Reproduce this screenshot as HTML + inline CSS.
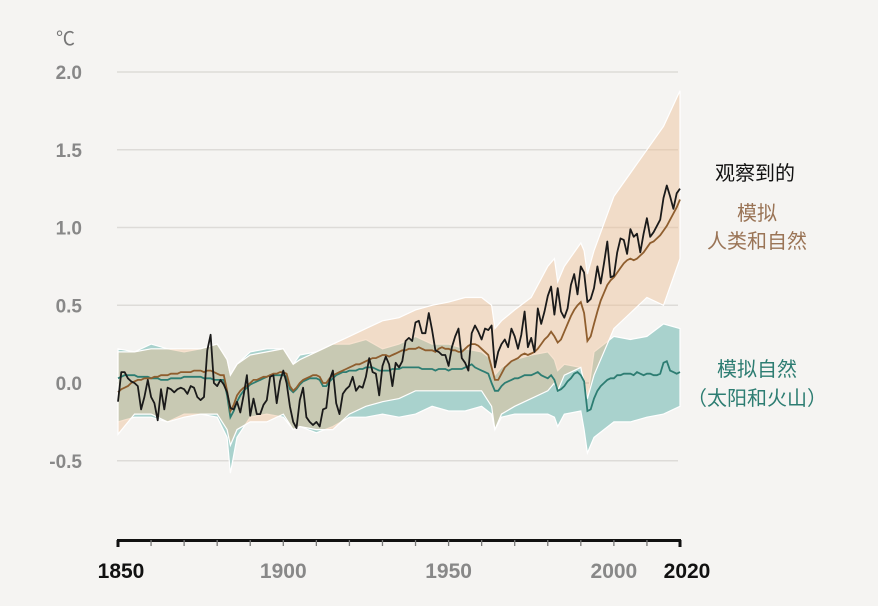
<!DOCTYPE html>
<html><head><meta charset="utf-8">
<style>
html,body{margin:0;padding:0;background:#f5f4f2;}
svg{display:block;font-family:"Liberation Sans","Noto Sans CJK SC",sans-serif;}
</style></head>
<body>
<svg id="chart" width="878" height="606" viewBox="0 0 878 606">
<rect width="878" height="606" fill="#f5f4f2"/>
<text x="56" y="45" font-size="19" fill="#777">℃</text>
<g id="grid"></g>
<g id="ylabels"></g>
<g id="bands"></g>
<g id="lines"></g>
<g id="xaxis"></g>
<text x="755" y="180" font-size="20" fill="#111" text-anchor="middle">观察到的</text>
<text x="757" y="220" font-size="20" fill="#9a7456" text-anchor="middle">模拟</text>
<text x="757" y="248" font-size="20" fill="#9a7456" text-anchor="middle">人类和自然</text>
<text x="757" y="376" font-size="20" fill="#2d7d72" text-anchor="middle">模拟自然</text>
<text x="757" y="405" font-size="20" fill="#2d7d72" text-anchor="middle">（太阳和火山）</text>
</svg>
<script>
const yTicks=[2.0,1.5,1.0,0.5,0.0,-0.5];
const yTickLabels=["2.0","1.5","1.0","0.5","0.0","-0.5"];
const xTicks=[1850,1900,1950,2000,2020];
const xTickLabels=["1850","1900","1950","2000","2020"];
const startYear=1850;
const observed=[-0.12,0.07,0.07,0.03,0.01,0.00,-0.02,-0.17,-0.09,0.02,
-0.09,-0.13,-0.24,-0.04,-0.17,-0.03,-0.04,-0.06,-0.04,-0.03,
-0.04,-0.07,-0.02,-0.03,-0.09,-0.11,-0.09,0.21,0.31,0.00,
-0.02,0.02,-0.01,-0.06,-0.16,-0.17,-0.12,-0.19,-0.08,0.05,
-0.21,-0.10,-0.20,-0.20,-0.14,-0.11,0.04,0.05,-0.13,0.01,
0.08,0.00,-0.15,-0.25,-0.29,-0.11,-0.03,-0.22,-0.25,-0.27,
-0.25,-0.28,-0.17,-0.16,0.02,0.08,-0.13,-0.20,-0.07,-0.04,
-0.02,0.04,-0.05,-0.02,-0.03,0.04,0.16,0.07,0.06,-0.08,
0.11,0.17,0.12,-0.02,0.13,0.10,0.14,0.27,0.29,0.27,
0.39,0.40,0.32,0.32,0.45,0.34,0.21,0.20,0.18,0.18,
0.11,0.23,0.30,0.35,0.16,0.13,0.08,0.32,0.37,0.33,
0.28,0.35,0.34,0.37,0.10,0.20,0.25,0.28,0.23,0.35,
0.30,0.22,0.31,0.46,0.23,0.29,0.20,0.48,0.38,0.46,
0.56,0.62,0.44,0.61,0.46,0.42,0.48,0.63,0.70,0.57,
0.75,0.71,0.52,0.54,0.61,0.75,0.64,0.77,0.91,0.68,
0.69,0.84,0.93,0.92,0.83,0.99,0.94,0.96,0.84,0.96,
1.06,0.94,0.97,1.01,1.05,1.19,1.27,1.20,1.12,1.22,1.25];
const humanNatural=[-0.06,-0.04,-0.03,-0.02,0.00,0.01,0.02,0.02,0.03,0.03,
0.03,0.04,0.04,0.05,0.05,0.05,0.06,0.06,0.06,0.07,
0.07,0.07,0.07,0.08,0.08,0.08,0.07,0.08,0.08,0.07,
0.06,0.05,0.05,-0.05,-0.18,-0.14,-0.08,-0.05,-0.03,-0.02,
0.00,0.02,0.02,0.03,0.04,0.04,0.05,0.06,0.06,0.07,
0.07,0.06,-0.02,-0.05,-0.03,0.00,0.02,0.03,0.04,0.05,
0.05,0.04,0.00,0.00,0.03,0.05,0.06,0.07,0.08,0.09,
0.10,0.11,0.12,0.12,0.13,0.14,0.15,0.16,0.16,0.17,
0.18,0.18,0.17,0.18,0.19,0.20,0.21,0.21,0.22,0.22,
0.22,0.23,0.22,0.21,0.21,0.21,0.20,0.22,0.23,0.22,
0.22,0.21,0.21,0.20,0.20,0.22,0.24,0.25,0.25,0.24,
0.22,0.20,0.18,0.10,0.02,0.02,0.06,0.10,0.12,0.14,
0.15,0.16,0.18,0.19,0.18,0.19,0.20,0.22,0.25,0.28,
0.30,0.33,0.30,0.26,0.28,0.33,0.38,0.43,0.47,0.50,
0.52,0.45,0.27,0.30,0.38,0.46,0.53,0.58,0.63,0.66,
0.68,0.71,0.74,0.77,0.79,0.80,0.79,0.80,0.82,0.84,
0.87,0.90,0.91,0.93,0.95,0.98,1.01,1.05,1.09,1.13,1.18];
const natural=[0.03,0.04,0.05,0.05,0.05,0.05,0.04,0.04,0.04,0.04,
0.03,0.03,0.03,0.02,0.02,0.02,0.03,0.03,0.03,0.03,
0.04,0.04,0.04,0.04,0.04,0.04,0.03,0.03,0.03,0.02,
0.02,0.02,0.02,-0.08,-0.22,-0.18,-0.12,-0.08,-0.05,-0.03,
-0.01,0.00,0.01,0.02,0.03,0.04,0.05,0.05,0.05,0.05,
0.05,0.04,-0.04,-0.06,-0.04,-0.01,0.01,0.02,0.03,0.03,
0.03,0.02,-0.02,-0.02,0.01,0.03,0.05,0.06,0.07,0.07,
0.08,0.08,0.08,0.09,0.09,0.10,0.10,0.10,0.09,0.08,
0.08,0.08,0.08,0.09,0.09,0.09,0.10,0.10,0.10,0.10,
0.10,0.10,0.09,0.09,0.09,0.09,0.08,0.09,0.09,0.09,
0.08,0.09,0.09,0.09,0.09,0.10,0.11,0.12,0.10,0.09,
0.08,0.07,0.06,0.00,-0.05,-0.05,-0.02,0.00,0.01,0.02,
0.03,0.03,0.04,0.05,0.05,0.05,0.06,0.07,0.05,0.04,
0.03,0.05,0.02,-0.05,-0.04,-0.02,0.01,0.03,0.06,0.07,
0.05,0.01,-0.18,-0.17,-0.10,-0.05,-0.02,0.00,0.02,0.03,
0.03,0.05,0.05,0.06,0.06,0.06,0.05,0.07,0.06,0.05,
0.06,0.06,0.05,0.05,0.06,0.13,0.14,0.08,0.07,0.06,0.07];
const bandYears=[1850,1855,1860,1865,1870,1875,1880,1883,1884,1886,1890,1895,1900,1903,1905,1910,1915,1920,1925,1930,1935,1940,1945,1950,1955,1960,1963,1964,1966,1970,1975,1980,1982,1983,1985,1990,1991,1992,1994,2000,2005,2010,2015,2020];
const hnLow=[-0.33,-0.2,-0.2,-0.25,-0.22,-0.2,-0.2,-0.3,-0.4,-0.3,-0.25,-0.25,-0.2,-0.3,-0.28,-0.3,-0.3,-0.2,-0.15,-0.12,-0.1,-0.05,-0.05,-0.05,-0.05,-0.05,-0.15,-0.3,-0.2,-0.15,-0.1,-0.05,0.0,-0.05,0.05,0.1,0.0,-0.1,0.05,0.35,0.45,0.55,0.5,0.8];
const hnHigh=[0.2,0.2,0.22,0.22,0.22,0.22,0.25,0.15,0.05,0.12,0.18,0.2,0.22,0.12,0.15,0.2,0.25,0.3,0.35,0.4,0.42,0.47,0.5,0.52,0.55,0.55,0.5,0.35,0.4,0.47,0.55,0.75,0.8,0.65,0.75,0.9,0.85,0.7,0.85,1.2,1.35,1.5,1.65,1.88];
const natLow=[-0.25,-0.22,-0.22,-0.25,-0.2,-0.2,-0.22,-0.35,-0.58,-0.35,-0.22,-0.2,-0.22,-0.3,-0.28,-0.32,-0.28,-0.22,-0.22,-0.2,-0.22,-0.2,-0.15,-0.18,-0.18,-0.15,-0.2,-0.3,-0.22,-0.2,-0.2,-0.2,-0.22,-0.28,-0.2,-0.18,-0.3,-0.45,-0.35,-0.25,-0.25,-0.22,-0.2,-0.15];
const natHigh=[0.22,0.2,0.25,0.22,0.2,0.22,0.25,0.15,0.05,0.12,0.2,0.22,0.22,0.12,0.18,0.2,0.25,0.25,0.28,0.22,0.25,0.3,0.25,0.25,0.22,0.2,0.15,0.05,0.1,0.15,0.18,0.2,0.15,0.08,0.12,0.1,0.0,-0.1,0.2,0.3,0.28,0.3,0.38,0.35];

const NS='http://www.w3.org/2000/svg';
const x=yr=>118+(yr-1850)*(562/170);
const y=v=>383-v*155.5;
function mk(tag,attrs,parent){const e=document.createElementNS(NS,tag);for(const k in attrs)e.setAttribute(k,attrs[k]);parent.appendChild(e);return e;}

const grid=document.getElementById('grid'),yl=document.getElementById('ylabels');
yTicks.forEach((v,i)=>{
  const l=mk('line',{x1:117,x2:678,y1:y(v),y2:y(v),stroke:v===0?'#cfcdca':'#dddbd8','stroke-width':1.5},grid);
  
  
  const t=mk('text',{x:82,y:y(v)+7,'text-anchor':'end','font-size':19,'font-weight':'bold',fill:'#888'},yl);
  t.textContent=yTickLabels[i];
  
  
});

const bands=document.getElementById('bands');
function bandPath(lo,hi){
  let d='';
  bandYears.forEach((yr,i)=>{d+=(i?'L':'M')+x(yr).toFixed(1)+','+y(hi[i]).toFixed(1);});
  for(let i=bandYears.length-1;i>=0;i--)d+='L'+x(bandYears[i]).toFixed(1)+','+y(lo[i]).toFixed(1);
  return d+'Z';
}
const nb=mk('path',{d:bandPath(natLow,natHigh),fill:'#a9d2cd',stroke:'#fff','stroke-width':1.2},bands);


const hb=mk('path',{d:bandPath(hnLow,hnHigh),fill:'rgba(238,191,149,0.45)',stroke:'#fff','stroke-width':1.2},bands);



const lines=document.getElementById('lines');
function linePath(arr){return arr.map((v,i)=>(i?'L':'M')+x(startYear+i).toFixed(1)+','+y(v).toFixed(1)).join('');}
const ln=mk('path',{d:linePath(natural),fill:'none',stroke:'#2d7d72','stroke-width':1.8},lines);


const lh=mk('path',{d:linePath(humanNatural),fill:'none',stroke:'#8f5e2e','stroke-width':1.8},lines);


const lo=mk('path',{d:linePath(observed),fill:'none',stroke:'#1a1a1a','stroke-width':1.8,'stroke-linejoin':'round'},lines);



const xa=document.getElementById('xaxis');
const al=mk('line',{x1:117,x2:681,y1:540.5,y2:540.5,stroke:'#111','stroke-width':3},xa);


for(let yr=1850;yr<=2020;yr+=10){
  const end=(yr===1850||yr===2020);
  const tk=mk('line',{x1:x(yr),x2:x(yr),y1:540,y2:end?547:546,stroke:end?'#111':'#777','stroke-width':end?3:1.3},xa);
  
  
}
xTicks.forEach((yr,i)=>{
  const end=(yr===1850||yr===2020);
  const t=mk('text',{x:x(yr)+(yr===2020?7:(yr===1850?3:0)),y:578,'text-anchor':'middle','font-size':21,'font-weight':'bold',fill:end?'#111':'#888'},xa);
  t.textContent=xTickLabels[i];
  
  
});
</script>
</body></html>
